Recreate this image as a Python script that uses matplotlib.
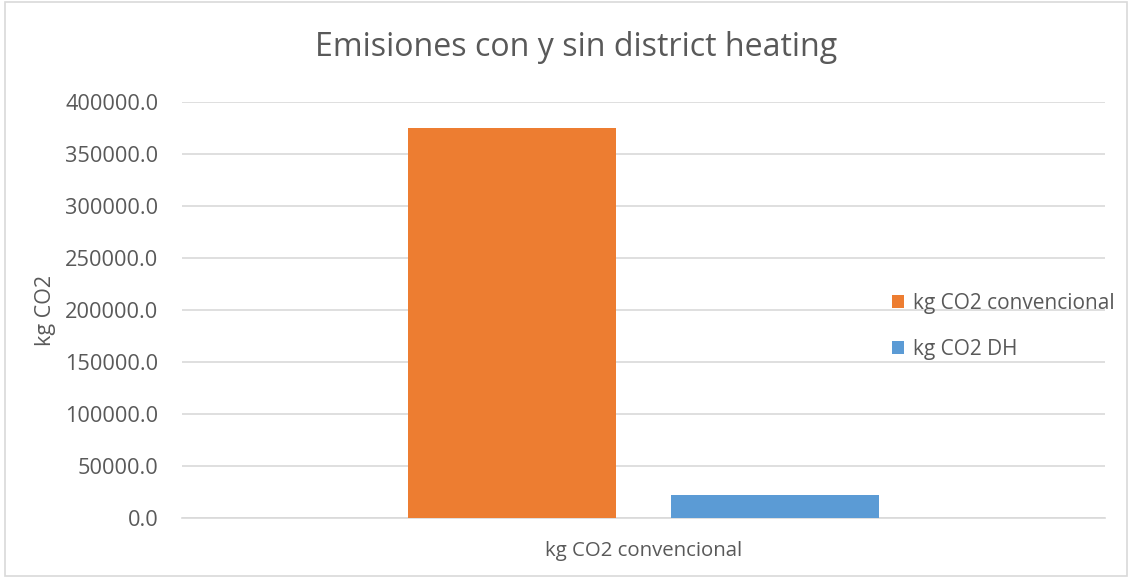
import matplotlib
matplotlib.use("Agg")
import matplotlib.pyplot as plt
from matplotlib.patches import Rectangle

# Data
category = "kg CO2 convencional"
series = ["kg CO2 convencional", "kg CO2 DH"]
values = [375000, 22000]
colors = ["#ED7D31", "#5B9BD5"]
yticks = [0, 50000, 100000, 150000, 200000, 250000, 300000, 350000, 400000]

plt.rcParams['font.family'] = ['Open Sans', 'DejaVu Sans']
text_color = "#595959"

fig = plt.figure(figsize=(11.32, 5.78), dpi=100)
ax = fig.add_axes([0.1608, 0.1043, 0.8152, 0.7187])

# Two bars in one category group
offsets = [-0.1425, 0.1425]
width = 0.2254
for off, val, col, name in zip(offsets, values, colors, series):
    ax.bar(0 + off, val, width=width, color=col, label=name, zorder=3)

ax.set_xlim(-0.5, 0.5)
ax.set_ylim(0, 400000)
ax.set_yticks(yticks)
ax.set_yticklabels([f"{v:.1f}" for v in yticks], fontsize=15.7, color=text_color)
ax.set_xticks([0])
ax.set_xticklabels([category], fontsize=14.7, color=text_color)
ax.tick_params(axis='y', length=0, pad=17)
ax.tick_params(axis='x', length=0, pad=17)
ax.yaxis.grid(True, color="#D9D9D9", linewidth=1.2, zorder=0)
for s in ["top", "right", "left"]:
    ax.spines[s].set_visible(False)
ax.spines["bottom"].set_color("#D9D9D9")
ax.spines["bottom"].set_linewidth(1.2)

ax.set_ylabel("kg CO2", fontsize=15.5, color=text_color)
ax.yaxis.label.set_va("center")
ax.yaxis.set_label_coords(-0.148, 0.5)
fig.text(0.509, 0.918, "Emisiones con y sin district heating", fontsize=23.1,
         color=text_color, ha="center", va="center")

leg = ax.legend(loc="center left", bbox_to_anchor=(0.749, 0.46), frameon=False,
                fontsize=15, handlelength=0.6, handleheight=0.6,
                handletextpad=0.4, labelspacing=1.2)
for t in leg.get_texts():
    t.set_color(text_color)

# Light chart border like the spreadsheet frame
fig.patches.append(Rectangle((0.004, 0.004), 0.992, 0.992, transform=fig.transFigure,
                             fill=False, edgecolor="#D9D9D9", linewidth=1.2))

fig.savefig("out.png", dpi=100)
